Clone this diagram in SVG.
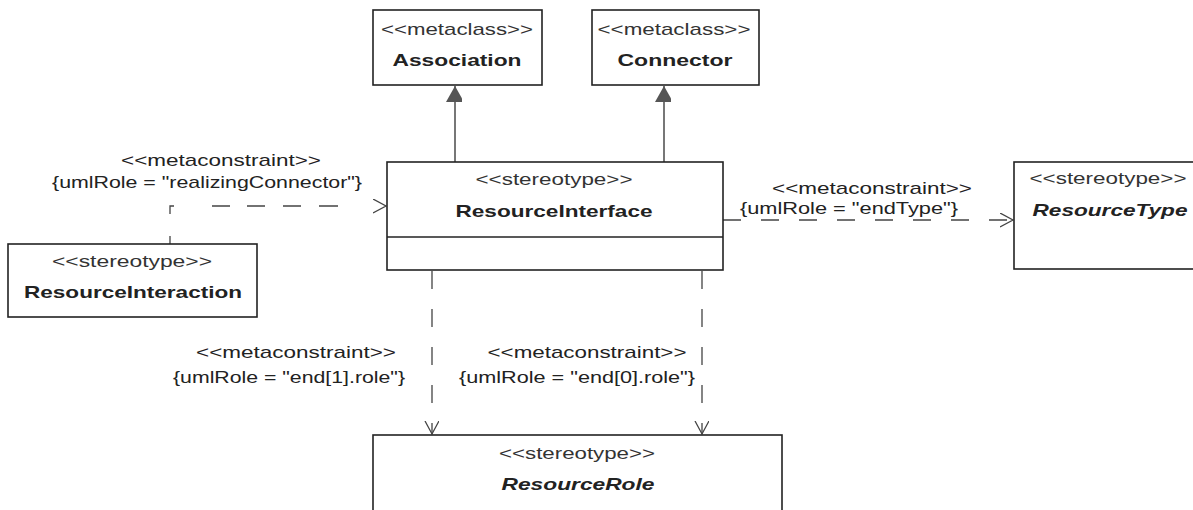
<svg xmlns="http://www.w3.org/2000/svg" width="1193" height="510" viewBox="0 0 1193 510">
<style>
.box{fill:#fff;stroke:#222;stroke-width:1.6}
.st{font-family:"Liberation Sans",Arial,sans-serif;font-size:17px;fill:#333;text-anchor:middle}
.nm{font-family:"Liberation Sans",Arial,sans-serif;font-size:17px;font-weight:bold;fill:#222;text-anchor:middle}
.it{font-style:italic}
.lb{font-family:"Liberation Sans",Arial,sans-serif;font-size:17px;fill:#222;text-anchor:middle}
.gen{fill:none;stroke:#555;stroke-width:1.6}
.dep{fill:none;stroke:#444;stroke-width:1.3;stroke-dasharray:18 20}
</style>
<defs>
<marker id="tri" markerUnits="userSpaceOnUse" markerWidth="20" markerHeight="16" refX="16" refY="9" orient="auto">
<path d="M0,0 L16,9 L0,18 Z" fill="#555"/>
</marker>
<marker id="open" markerUnits="userSpaceOnUse" markerWidth="16" markerHeight="16" refX="13" refY="7" orient="auto">
<path d="M0,0 L13,7 L0,14" fill="none" stroke="#444" stroke-width="1.3"/>
</marker>
</defs>
<rect width="1193" height="510" fill="#fff"/>
<g id="connectors">
<line class="gen" x1="455" y1="162" x2="455" y2="86" marker-end="url(#tri)"/>
<line class="gen" x1="664" y1="162" x2="664" y2="86" marker-end="url(#tri)"/>
<path class="dep" d="M170,244 L170,206 L386,206" style="stroke-dasharray:8 22 12 38 18 17 18 18 18 18 19 50" marker-end="url(#open)"/>
<path class="dep" d="M723,220 L1013,220" marker-end="url(#open)"/>
<path class="dep" d="M432,271 L432,434" marker-end="url(#open)"/>
<path class="dep" d="M702,271 L702,434" marker-end="url(#open)"/>
<text class="lb" x="221" y="166" textLength="200" lengthAdjust="spacingAndGlyphs">&lt;&lt;metaconstraint&gt;&gt;</text>
<text class="lb" x="207" y="188" textLength="310" lengthAdjust="spacingAndGlyphs">{umlRole = "realizingConnector"}</text>
<text class="lb" x="872" y="194" textLength="200" lengthAdjust="spacingAndGlyphs">&lt;&lt;metaconstraint&gt;&gt;</text>
<text class="lb" x="849" y="214" textLength="218" lengthAdjust="spacingAndGlyphs">{umlRole = "endType"}</text>
<text class="lb" x="296" y="358" textLength="200" lengthAdjust="spacingAndGlyphs">&lt;&lt;metaconstraint&gt;&gt;</text>
<text class="lb" x="289" y="383" textLength="232" lengthAdjust="spacingAndGlyphs">{umlRole = "end[1].role"}</text>
<text class="lb" x="587" y="358" textLength="199" lengthAdjust="spacingAndGlyphs">&lt;&lt;metaconstraint&gt;&gt;</text>
<text class="lb" x="577" y="383" textLength="236" lengthAdjust="spacingAndGlyphs">{umlRole = "end[0].role"}</text>
</g>
<g id="association">
<rect class="box" x="373" y="10" width="169" height="75"/>
<text class="st" x="457" y="35" textLength="152" lengthAdjust="spacingAndGlyphs">&lt;&lt;metaclass&gt;&gt;</text>
<text class="nm" x="457" y="66" textLength="129" lengthAdjust="spacingAndGlyphs">Association</text>
</g>
<g id="connector">
<rect class="box" x="592" y="10" width="167" height="75"/>
<text class="st" x="674" y="35" textLength="153" lengthAdjust="spacingAndGlyphs">&lt;&lt;metaclass&gt;&gt;</text>
<text class="nm" x="675" y="66" textLength="115" lengthAdjust="spacingAndGlyphs">Connector</text>
</g>
<g id="resourceInterface">
<rect class="box" x="387" y="162" width="336" height="108"/>
<line x1="387" y1="237" x2="723" y2="237" stroke="#222" stroke-width="1.6"/>
<text class="st" x="554" y="185" textLength="157" lengthAdjust="spacingAndGlyphs">&lt;&lt;stereotype&gt;&gt;</text>
<text class="nm" x="554" y="217" textLength="197" lengthAdjust="spacingAndGlyphs">ResourceInterface</text>
</g>
<g id="resourceInteraction">
<rect class="box" x="8" y="244" width="249" height="73"/>
<text class="st" x="132" y="267" textLength="160" lengthAdjust="spacingAndGlyphs">&lt;&lt;stereotype&gt;&gt;</text>
<text class="nm" x="133" y="298" textLength="218" lengthAdjust="spacingAndGlyphs">ResourceInteraction</text>
</g>
<g id="resourceType">
<rect class="box" x="1014" y="162" width="195" height="107"/>
<text class="st" x="1108" y="184" textLength="157" lengthAdjust="spacingAndGlyphs">&lt;&lt;stereotype&gt;&gt;</text>
<text class="nm it" x="1110" y="216" textLength="155" lengthAdjust="spacingAndGlyphs">ResourceType</text>
</g>
<g id="resourceRole">
<rect class="box" x="373" y="435" width="409" height="90"/>
<text class="st" x="577" y="459" textLength="156" lengthAdjust="spacingAndGlyphs">&lt;&lt;stereotype&gt;&gt;</text>
<text class="nm it" x="578" y="490" textLength="153" lengthAdjust="spacingAndGlyphs">ResourceRole</text>
</g>
</svg>
